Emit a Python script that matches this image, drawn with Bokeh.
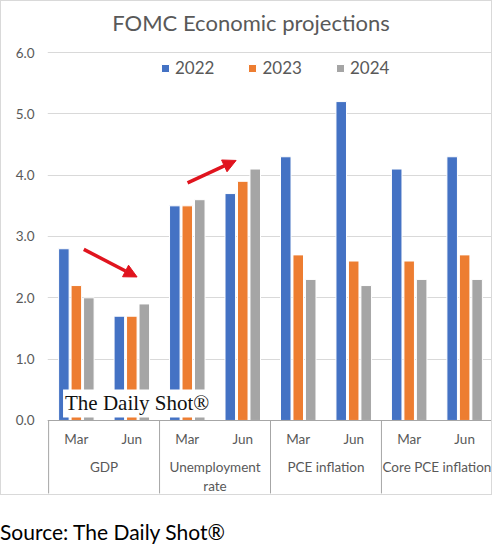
from bokeh.plotting import figure
from bokeh.models import (FactorRange, ColumnDataSource, Legend, LegendItem, Arrow,
                          NormalHead, Label, FixedTicker, Div, Range1d, NumeralTickFormatter)
from bokeh.transform import dodge
from bokeh.layouts import column
from bokeh.embed import file_html
from bokeh.resources import INLINE
from bokeh.core.properties import value

# ---- data ----
title_text = "FOMC Economic projections"
groups = ["GDP", "Unemployment rate", "PCE inflation", "Core PCE inflation"]
group_labels = ["GDP", "Unemployment\nrate", "PCE inflation", "Core PCE inflation"]
months = ["Mar", "Jun"]
years = ["2022", "2023", "2024"]
v2022 = [2.8, 1.7, 3.5, 3.7, 4.3, 5.2, 4.1, 4.3]
v2023 = [2.2, 1.7, 3.5, 3.9, 2.7, 2.6, 2.6, 2.7]
v2024 = [2.0, 1.9, 3.6, 4.1, 2.3, 2.2, 2.3, 2.3]
y_ticks = [0, 1, 2, 3, 4, 5, 6]
colors = ["#4472C4", "#ED7D31", "#A5A5A5"]

# red trend arrows (start/end, x in category slots)
arrow_x_start = [0.635, 2.505]
arrow_y_start = [2.79, 3.875]
arrow_x_end = [1.595, 3.38]
arrow_y_end = [2.34, 4.24]

factors = [(g, m) for g in groups for m in months]
source = ColumnDataSource(data=dict(x=factors, y2022=v2022, y2023=v2023, y2024=v2024))

FONT = "Lato"
TXT = "#595959"
Y_MIN = -1.24      # bottom of the frame (below the category labels)
Y_MAX = 6.832      # top of the frame (room for title and legend)
SEP_END = -1.19    # where the group separator lines stop

x_range = FactorRange(*factors, factor_padding=0, group_padding=0,
                      range_padding=0.02, range_padding_units="absolute")
y_range = Range1d(Y_MIN, Y_MAX)

p = figure(x_range=x_range, y_range=y_range, width=492, height=495,
           output_backend="svg", toolbar_location=None,
           min_border_left=46, min_border_right=0, min_border_bottom=0, min_border_top=0)
p.styles = {"border": "1px solid #D9D9D9"}
p.background_fill_color = "white"
p.border_fill_color = "white"
p.outline_line_color = None

# chart title, centred on the whole chart box
p.add_layout(Label(x=203.5, y=474, x_units="screen", y_units="screen", text=title_text,
                   text_align="center", text_baseline="alphabetic", text_font=FONT,
                   text_font_size="22px", text_color=TXT))

# bars
offsets = [-0.225, 0.0, 0.225]
cols = ["y2022", "y2023", "y2024"]
renderers = []
for off, c, col in zip(offsets, cols, colors):
    r = p.vbar(x=dodge("x", off, range=p.x_range), top=c, width=0.19, source=source,
               fill_color=col, line_color="white", line_width=1)
    renderers.append(r)

# y axis
p.yaxis.ticker = FixedTicker(ticks=y_ticks)
p.yaxis.formatter = NumeralTickFormatter(format="0.0")
p.yaxis.axis_line_color = None
p.yaxis.major_tick_line_color = None
p.yaxis.minor_tick_line_color = None
p.yaxis.major_label_text_font = FONT
p.yaxis.major_label_text_font_size = "13.5px"
p.yaxis.major_label_text_color = TXT
p.yaxis.major_label_standoff = 7

p.ygrid.ticker = FixedTicker(ticks=y_ticks)
p.ygrid.grid_line_color = "#D9D9D9"
p.xgrid.visible = False

# x axis placed at y=0 inside the frame
xa = p.xaxis[0]
xa.fixed_location = 0
xa.axis_line_color = "#A6A6A6"
xa.major_tick_line_color = None
xa.minor_tick_line_color = None
xa.major_label_text_font = FONT
xa.major_label_text_font_size = "13.5px"
xa.major_label_text_color = TXT
xa.major_label_standoff = 5
xa.group_text_color = None
if "separator_line_color" in xa.properties():
    xa.separator_line_color = None

# group labels (wrapped like the original)
gsrc = ColumnDataSource(data=dict(x=groups, text=group_labels, y=[-0.63] * len(groups)))
p.text(x="x", y="y", text="text", source=gsrc, text_align="center", text_baseline="top",
       text_font=value(FONT), text_font_size="13.5px", text_color=TXT, text_line_height=1.2)

# group separators down to the bottom of the chart
bounds = [len(months) * i for i in range(len(groups) + 1)]
p.segment(x0=bounds, y0=[0] * len(bounds), x1=bounds, y1=[SEP_END] * len(bounds),
          line_color="#A6A6A6", line_width=1)

# legend
legend = Legend(items=[LegendItem(label=y, renderers=[r]) for y, r in zip(years, renderers)],
                orientation="horizontal", location=(113, 418))
legend.label_text_font = FONT
legend.label_text_font_size = "17px"
legend.label_text_color = TXT
legend.glyph_width = 10
legend.glyph_height = 10
legend.label_standoff = 5
legend.spacing = 33
legend.padding = 0
legend.margin = 0
legend.border_line_color = None
legend.background_fill_alpha = 0
p.add_layout(legend, "center")

# arrows
for xs, ys, xe, ye in zip(arrow_x_start, arrow_y_start, arrow_x_end, arrow_y_end):
    p.add_layout(Arrow(end=NormalHead(size=13, fill_color="#E0141E", line_color="#E0141E"),
                       x_start=xs, y_start=ys, x_end=xe, y_end=ye,
                       line_color="#E0141E", line_width=3.5))

# watermark
p.add_layout(Label(x=0.26, y=0.05, text="The Daily Shot\u00ae", text_font="Liberation Serif",
                   text_font_size="21px", text_color="#111111",
                   background_fill_color="white", padding=2))

src = Div(text="Source: The Daily Shot\u00ae", margin=(22, 0, 0, 0),
          styles={"font-family": "Lato", "font-size": "21px", "color": "black"})

layout = column(p, src, spacing=0)
open("out.html", "w").write(file_html(layout, INLINE))
